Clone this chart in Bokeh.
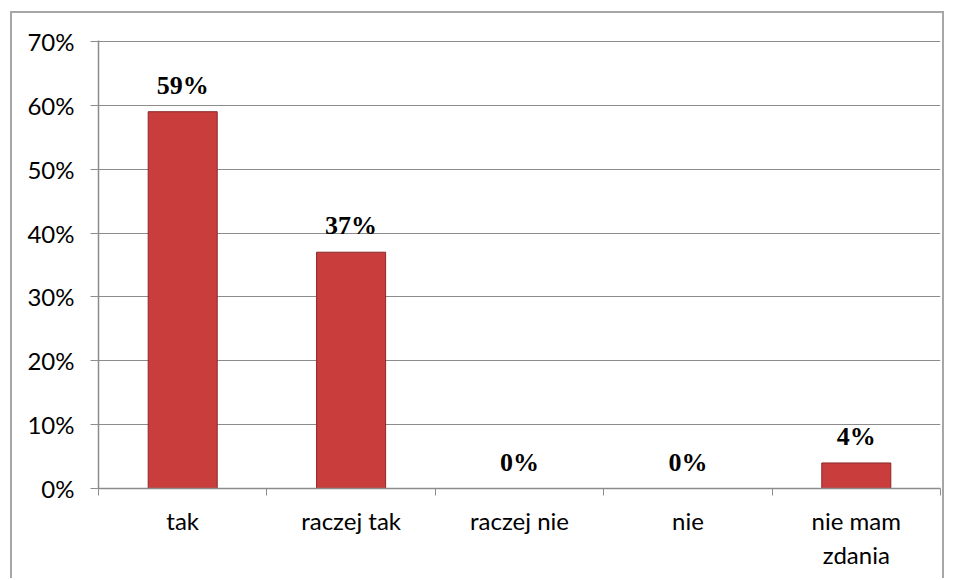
from bokeh.plotting import figure
from bokeh.models import ColumnDataSource, FixedTicker, NumeralTickFormatter, Range1d, LabelSet
from bokeh.core.properties import value
from bokeh.embed import file_html
from bokeh.resources import INLINE

categories = ["tak", "raczej tak", "raczej nie", "nie", "nie mam\nzdania"]
values = [0.59, 0.37, 0.0, 0.0, 0.04]
value_labels = ["59%", "37%", "0%", "0%", "4%"]
y_ticks = [0.0, 0.1, 0.2, 0.3, 0.4, 0.5, 0.6, 0.7]

xs = [i + 0.5 for i in range(len(categories))]
src = ColumnDataSource(dict(x=xs, top=values, lab=value_labels))

p = figure(width=934, height=567, output_backend="svg", toolbar_location=None,
           x_range=Range1d(0, len(categories)), y_range=Range1d(0, 0.7015),
           min_border_left=86, min_border_right=6, min_border_top=27, min_border_bottom=92)
p.margin = (11, 0, 0, 10)
p.styles = {"border": "2px solid #a6a6a6", "border-bottom": "none"}
p.outline_line_color = None
p.background_fill_color = "white"
p.border_fill_color = "white"

p.vbar(x="x", top="top", width=0.41, bottom=0, source=src,
       fill_color="#c93d3d", line_color="#8a2a2a", line_width=1)

labels = LabelSet(x="x", y="top", text="lab", source=src, text_align="center",
                  text_baseline="alphabetic", y_offset=18,
                  text_font=value("Liberation Serif"), text_font_style="bold",
                  text_font_size="26px", text_color="black")
p.add_layout(labels)

# y axis
p.yaxis.ticker = FixedTicker(ticks=y_ticks)
p.yaxis.formatter = NumeralTickFormatter(format="0%")
p.yaxis.major_label_text_font = "Lato"
p.yaxis.major_label_text_font_size = "24px"
p.yaxis.major_label_text_color = "black"
p.yaxis.axis_line_color = "#8c8c8c"
p.yaxis.axis_line_width = 1.5
p.yaxis.major_tick_line_color = "#8c8c8c"
p.yaxis.major_tick_out = 8
p.yaxis.major_tick_in = 0
p.yaxis.minor_tick_line_color = None
p.yaxis.major_label_standoff = 16

# x axis
p.xaxis.ticker = FixedTicker(ticks=xs, minor_ticks=list(range(len(categories) + 1)))
p.xaxis.major_label_overrides = {x: c for x, c in zip(xs, categories)}
p.xaxis.major_label_text_font = "Lato"
p.xaxis.major_label_text_font_size = "24px"
p.xaxis.major_label_text_color = "black"
p.xaxis.axis_line_color = "#8c8c8c"
p.xaxis.axis_line_width = 1.5
p.xaxis.major_tick_line_color = None
p.xaxis.minor_tick_line_color = "#8c8c8c"
p.xaxis.minor_tick_out = 7
p.xaxis.minor_tick_in = 0
p.xaxis.major_label_standoff = 10

p.xgrid.visible = False
p.ygrid.ticker = FixedTicker(ticks=y_ticks)
p.ygrid.grid_line_color = "#8c8c8c"
p.ygrid.grid_line_width = 1

open("out.html", "w").write(file_html(p, INLINE))
